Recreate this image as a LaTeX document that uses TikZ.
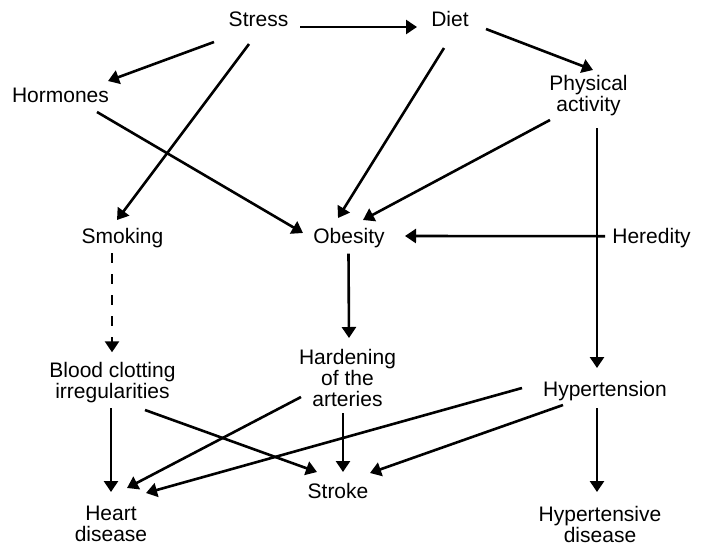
\documentclass[tikz,border=0pt]{standalone}
\usepackage{fontspec}
\setmainfont{Liberation Sans}
\usetikzlibrary{arrows.meta}
\begin{document}
\begin{tikzpicture}[x=1pt,y=-1pt,
  lbl/.style={align=center,inner sep=0pt,font=\fontsize{21}{21}\selectfont},
  arr/.style={line width=2.6pt,-{Triangle[length=11pt,width=14pt]}},
  darr/.style={arr,dash pattern=on 10pt off 11pt}]
\useasboundingbox (0,0) rectangle (701,547);
\fill[white] (0,0) rectangle (701,547);
\node[lbl] (stress) at (258.5,19) {Stress};
\node[lbl] (diet) at (450,19) {Diet};
\node[lbl] (horm) at (60.5,95) {Hormones};
\node[lbl] (phys) at (588.5,96) {Physical\\activity};
\node[lbl] (smok) at (122.5,238) {Smoking};
\node[lbl] (obes) at (349,237.6) {Obesity};
\node[lbl] (here) at (651.5,238) {Heredity};
\node[lbl] (blood) at (112.5,382.3) {Blood clotting\\irregularities};
\node[lbl] (hard) at (347.5,378) {Hardening\\of the\\arteries};
\node[lbl] (hyp) at (605,391) {Hypertension};
\node[lbl] (heart) at (111,523.4) {Heart\\disease};
\node[lbl] (stroke) at (338,491) {Stroke};
\node[lbl] (hypd) at (600,524) {Hypertensive\\disease};
\draw[arr] ([shift={(41.5,8)}]stress.center) -- ([shift={(-33,8)}]diet.center);
\draw[arr] ([shift={(-44.5,23)}]stress.center) -- ([shift={(47.5,-14)}]horm.center);
\draw[arr] ([shift={(-9.5,25)}]stress.center) -- ([shift={(-5.5,-18)}]smok.center);
\draw[arr] ([shift={(36.5,17)}]horm.center) -- ([shift={(-46,-4.6)}]obes.center);
\draw[arr] ([shift={(-6,29)}]diet.center) -- ([shift={(-11,-19.6)}]obes.center);
\draw[arr] ([shift={(36,10)}]diet.center) -- ([shift={(4.5,-26)}]phys.center);
\draw[arr] ([shift={(-38.5,24)}]phys.center) -- ([shift={(14,-17.6)}]obes.center);
\draw[arr] ([shift={(8.5,32)}]phys.center) -- ([shift={(-8,-23)}]hyp.center);
\draw[arr] ([shift={(-46.5,-1.8)}]here.center) -- ([shift={(56,-1.6)}]obes.center);
\draw[darr] ([shift={(-10.5,15)}]smok.center) -- ([shift={(-0.5,-30)}]blood.center);
\draw[arr] ([shift={(-0.5,16)}]obes.center) -- ([shift={(1.5,-40)}]hard.center);
\draw[arr] ([shift={(-1.5,25.7)}]blood.center) -- ([shift={(0,-31.4)}]heart.center);
\draw[arr] ([shift={(32.5,27.7)}]blood.center) -- ([shift={(-21,-19)}]stroke.center);
\draw[arr] ([shift={(-46.5,19)}]hard.center) -- ([shift={(16,-35.4)}]heart.center);
\draw[arr] ([shift={(-4.5,35)}]hard.center) -- ([shift={(5,-19)}]stroke.center);
\draw[arr] ([shift={(-83,-3)}]hyp.center) -- ([shift={(35,-30.4)}]heart.center);
\draw[arr] ([shift={(-42,14)}]hyp.center) -- ([shift={(32,-18)}]stroke.center);
\draw[arr] ([shift={(-8,17)}]hyp.center) -- ([shift={(-3,-32)}]hypd.center);
\end{tikzpicture}
\end{document}
